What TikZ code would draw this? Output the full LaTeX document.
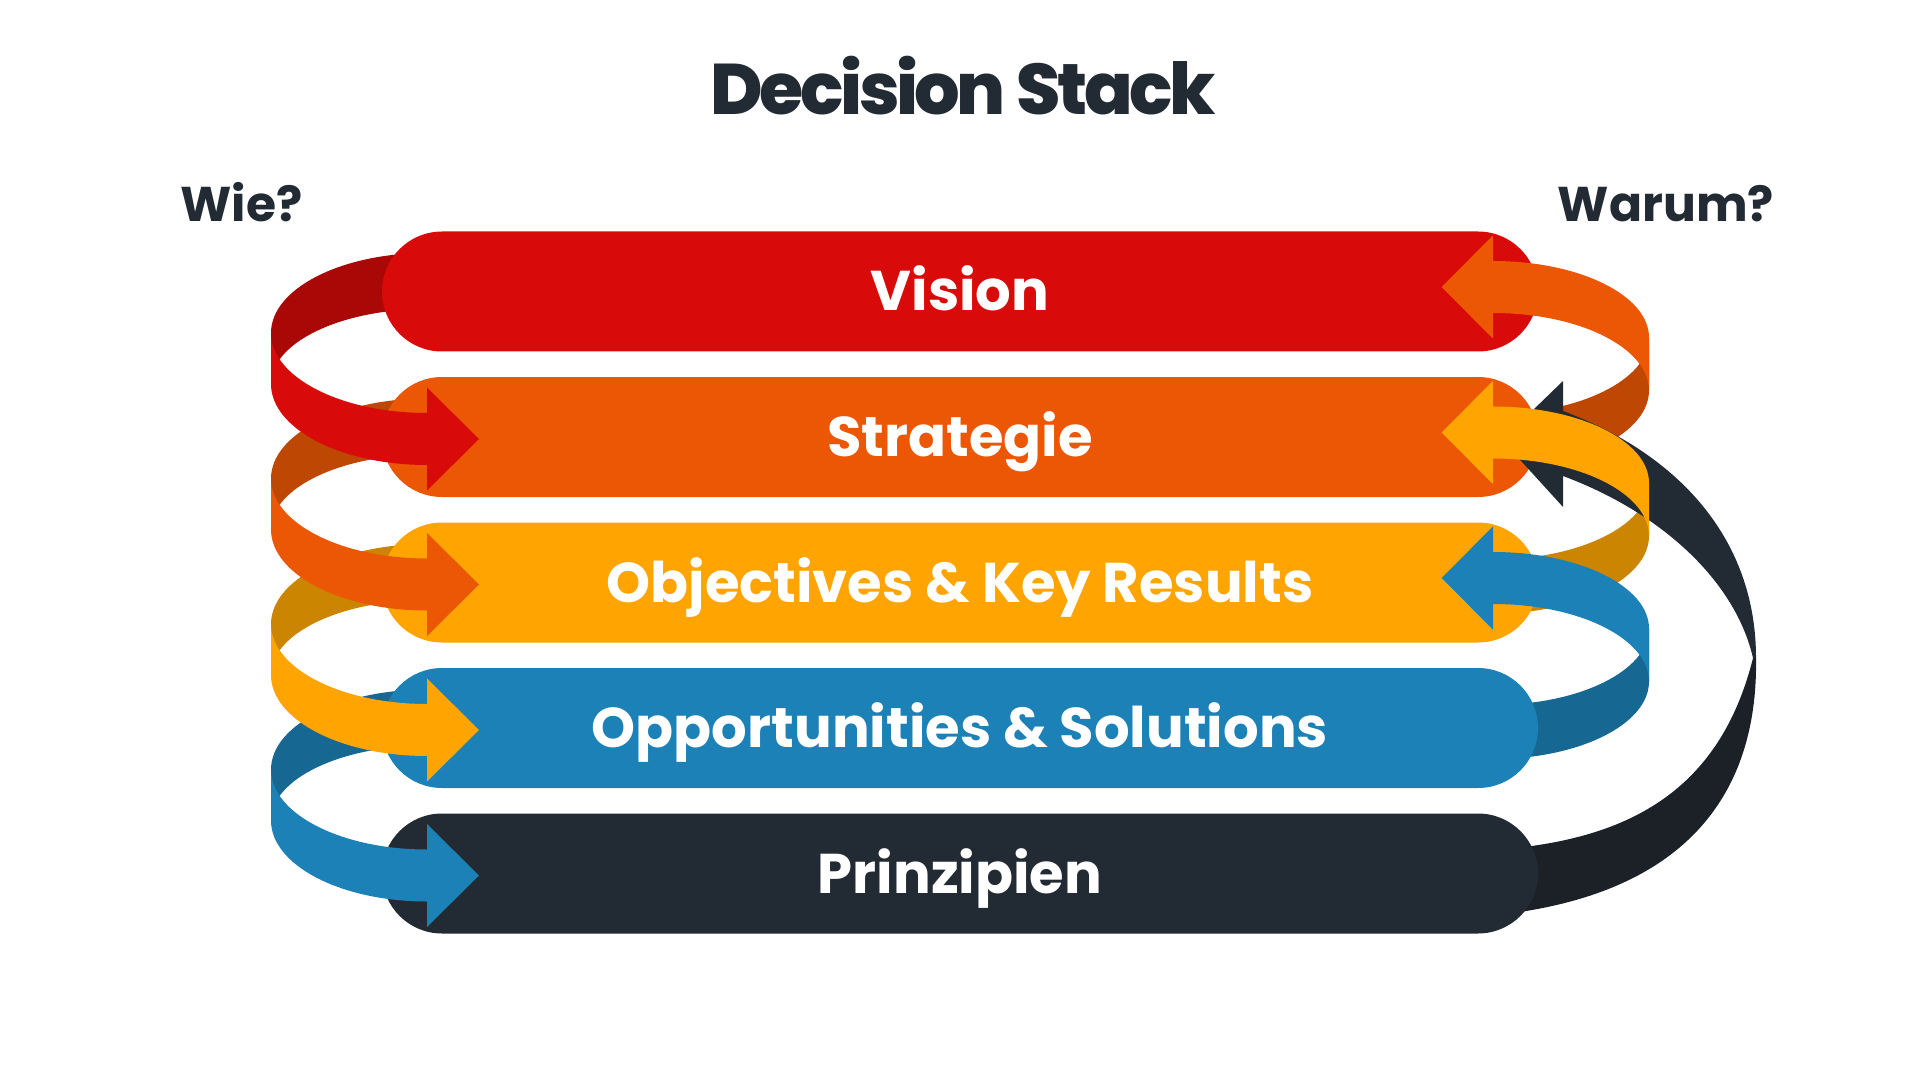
\documentclass[tikz,border=0pt]{standalone}
\usepackage{fontspec}
\setmainfont{Poppins}
\newfontfamily\titlefont{Poppins}[UprightFont=* ExtraBold, LetterSpace=-4.8]
\usepackage{tikz}
\definecolor{cred}{HTML}{D90A0A}
\definecolor{dred}{HTML}{AA0707}
\definecolor{corange}{HTML}{EB5705}
\definecolor{dorange}{HTML}{BE4704}
\definecolor{cyellow}{HTML}{FFA400}
\definecolor{dyellow}{HTML}{CC8500}
\definecolor{cblue}{HTML}{1C81B6}
\definecolor{dblue}{HTML}{166792}
\definecolor{cslate}{HTML}{222A33}
\definecolor{dslate}{HTML}{1B2127}

\begin{document}
\begin{tikzpicture}[x=0.5pt, y=0.5pt, yscale=-1,
  bar/.style={minimum width=578pt, minimum height=60pt, rounded corners=30pt, inner sep=0pt,
    text=white, font=\bfseries\fontsize{28pt}{30pt}\selectfont, text height=19.5pt, text depth=0pt},
  head/.style={text=cslate, inner sep=0pt, text depth=0pt}]
\useasboundingbox (0,0) rectangle (1920,1080);

% back faces of the loops
\foreach \yk/\back in {291.5/dred, 437/dorange, 582.5/dyellow, 728/dblue}
  \fill[\back] (427,{\yk-38.5}) arc[start angle=-90, end angle=-180, x radius=156, y radius=80]
    -- (271,{\yk+92.5}) arc[start angle=180, end angle=270, x radius=156, y radius=75] -- cycle;
\foreach \yk/\back in {291.5/dorange, 437/dyellow, 582.5/dblue}
  \fill[\back] (1649,{\yk+46}) arc[start angle=0, end angle=90, x radius=156, y radius=76.5]
    -- (1493,{\yk+176.5}) arc[start angle=90, end angle=0, x radius=156, y radius=77.5] -- cycle;
\fill[dslate] (1756,658) .. controls (1758,780) and (1700,890) .. (1505,914)
  -- (1505,849) .. controls (1630,838) and (1720,790) .. (1753,658) -- cycle;

% the stack
\foreach \n/\y/\c/\t in {vision/291.5/cred/Vision, strategie/437/corange/Strategie,
    okr/582.5/cyellow/Objectives \& Key Results, opps/728/cblue/Opportunities \& Solutions,
    prinz/873.5/cslate/Prinzipien}
  \node[bar, fill=\c] (\n) at (960,\y) {\t};

\fill[cslate] (1756,658) .. controls (1756,540) and (1680,455) .. (1563,411)
  -- (1563,381) -- (1502,440) -- (1563,507) -- (1563,476)
  .. controls (1660,512) and (1735,580) .. (1753,658) -- cycle;

% front faces with arrow heads
\foreach \yk/\front in {291.5/cred, 437/corange, 582.5/cyellow, 728/cblue}
  \fill[\front] (271,{\yk+41.5}) arc[start angle=180, end angle=90, x radius=156, y radius=80]
    -- (427,{\yk+96}) -- (479,{\yk+147.5}) -- (427,{\yk+199}) -- (427,{\yk+173.5})
    arc[start angle=90, end angle=180, x radius=156, y radius=81] -- cycle;
\foreach \yk/\front in {291.5/corange, 437/cyellow, 582.5/cblue}
  \fill[\front] (1493,{\yk-30.5}) arc[start angle=-90, end angle=0, x radius=156, y radius=76.5]
    -- (1649,{\yk+99}) arc[start angle=0, end angle=-90, x radius=156, y radius=77.5]
    -- (1493,{\yk+47.2}) -- (1441.7,{\yk-4.5}) -- (1493,{\yk-56.2}) -- cycle;

\node[head, font=\titlefont\fontsize{35.8pt}{38pt}\selectfont, text height=25pt] (title) at (963,90) {Decision Stack};
\node[head, font=\bfseries\fontsize{24.4pt}{26pt}\selectfont, text height=17pt] (wie) at (241.5,205) {Wie?};
\node[head, font=\bfseries\fontsize{24.4pt}{26pt}\selectfont, text height=17pt] (warum) at (1666,205) {Warum?};
\end{tikzpicture}
\end{document}
